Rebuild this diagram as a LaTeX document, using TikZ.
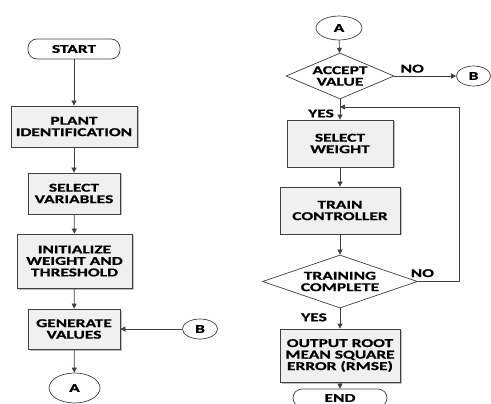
\documentclass[tikz,border=0pt]{standalone}
\usepackage{fontspec}
\setmainfont{Carlito}[FakeStretch=1.45, BoldFeatures={FakeBold=0.8}]
\usepackage{tikz}
\usetikzlibrary{arrows.meta,positioning,shapes.geometric,shadows}

\tikzset{
  line/.style={draw=black!75, line width=0.7pt},
  flow/.style={line, -{Triangle[length=5pt,width=5pt]}},
  procbox/.style={line, rectangle, fill=black!6, align=center, inner sep=0pt,
    drop shadow={shadow xshift=1.5pt, shadow yshift=-1.5pt, fill=black!25, opacity=1}},
  termbox/.style={line, rectangle, rounded corners=9pt, fill=white, align=center, inner sep=0pt},
  conn/.style={line, ellipse, fill=white, inner sep=0pt},
  decide/.style={line, diamond, fill=white, align=center, inner sep=0pt},
  lbl/.style={inner sep=0pt}
}

\begin{document}
\begin{tikzpicture}[x=1pt, y=-1pt, font=\fontsize{12}{11.5}\selectfont\bfseries]
         \useasboundingbox (0,0) rectangle (491,404);
         % Define nodes (left column)
         \node[termbox, minimum width=92pt, minimum height=20pt] (start) at (74,49) {START};
         \node[procbox, minimum width=126pt, minimum height=41pt] (plant) at (74,126.5) {PLANT\\IDENTIFICATION};
         \node[procbox, minimum width=92pt, minimum height=41pt] (selvar) at (74,193.5) {SELECT\\VARIABLES};
         \node[procbox, minimum width=115pt, minimum height=54pt] (init) at (74.5,261) {INITIALIZE\\WEIGHT AND\\THRESHOLD};
         \node[procbox, minimum width=92pt, minimum height=40pt] (gen) at (74,329) {GENERATE\\VALUES};
         \node[conn, minimum width=51pt, minimum height=30pt] (a1) at (74.5,388) {A};
         \node[conn, minimum width=35pt, minimum height=20pt] (b1) at (200,329) {B};

         % Define nodes (right column)
         \node[conn, minimum width=46pt, minimum height=24pt] (a2) at (339,28) {A};
         \node[decide, shape aspect=2.35, minimum width=108pt, minimum height=46pt] (accept) at (340,76) {ACCEPT\\VALUE};
         \node[conn, minimum width=34pt, minimum height=20pt] (b2) at (473.5,76) {B};
         \node[procbox, minimum width=106pt, minimum height=47pt] (selw) at (340,143.5) {SELECT\\WEIGHT};
         \node[procbox, minimum width=120pt, minimum height=47pt] (train) at (340,210.5) {TRAIN\\CONTROLLER};
         \node[decide, shape aspect=2.92, minimum width=155pt, minimum height=53pt] (done) at (340,281.5) {TRAINING\\COMPLETE};
         \node[procbox, minimum width=120pt, minimum height=53pt] (rmse) at (340,355.5) {OUTPUT ROOT\\MEAN SQUARE\\ERROR (RMSE)};
         \node[termbox, minimum width=94pt, minimum height=18pt] (stop) at (340,398) {END};
         \coordinate (join) at (340,107);
         \coordinate (loop) at (459,107);

         % Draw edges
         \draw[flow] (start) -- (plant);
         \draw[flow] (plant) -- (selvar);
         \draw[flow] (selvar) -- (init);
         \draw[flow] (init) -- (gen);
         \draw[flow] (gen) -- (a1);
         \draw[flow] (b1) -- (gen);
         \draw[flow] (a2) -- (accept);
         \draw[flow] (accept) -- (b2) node[lbl, pos=0.29, above=3pt] {NO};
         \draw[flow] (accept) -- (selw);
         \node[lbl, anchor=south east] at ([xshift=-6pt, yshift=2pt]selw.north) {YES};
         \draw[flow] (selw) -- (train);
         \draw[flow] (train) -- (done);
         \draw[flow] (done) -- (rmse);
         \node[lbl, anchor=east] at ([xshift=-13pt, yshift=-9pt]done.south) {YES};
         \draw[flow] (rmse) -- (stop);
         \draw[line] (done.east) -- (done.east -| loop) node[lbl, pos=0.11, above=4pt] {NO} -- (loop);
         \draw[flow] (loop) -- (join);
      \end{tikzpicture}
\end{document}
